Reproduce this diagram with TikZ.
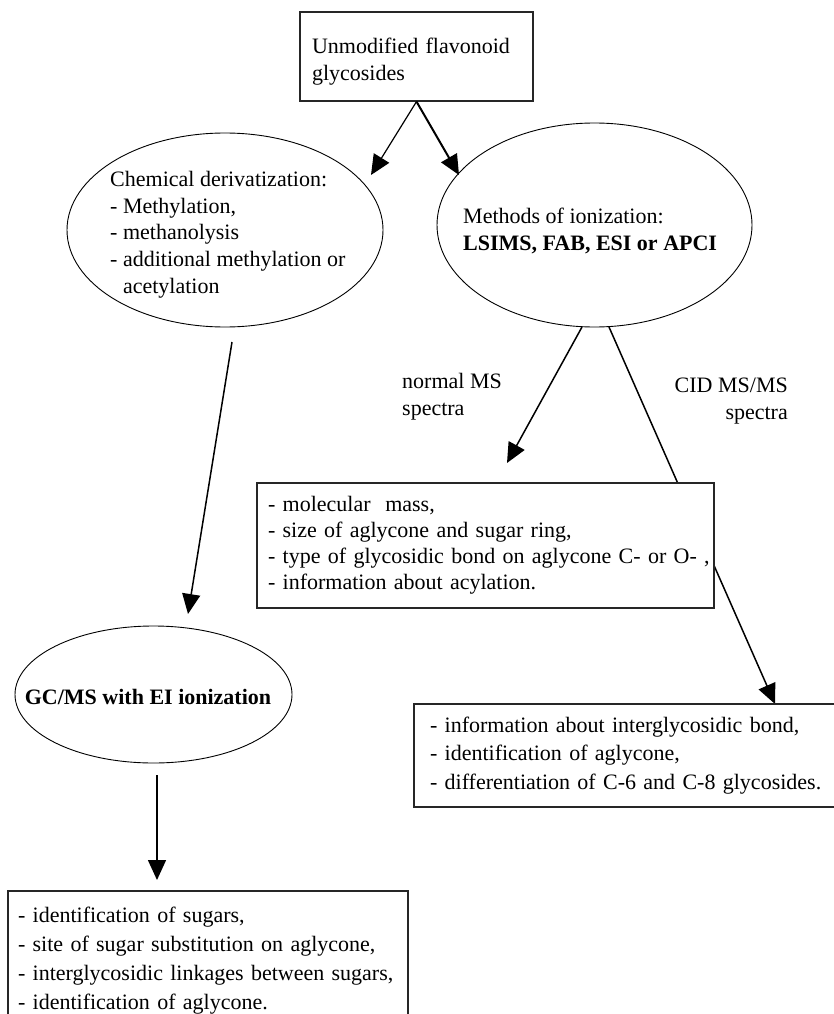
\documentclass[tikz,border=0pt]{standalone}
\usepackage{fontspec}
\setmainfont{Liberation Serif}
\usetikzlibrary{shapes.geometric,arrows.meta,backgrounds}
\begin{document}
\begin{tikzpicture}[x=1pt,y=-1pt,
  fnt/.style={font=\fontsize{22}{27}\selectfont},
  boxnode/.style={draw=black!85, line width=1.2pt, fill=white, rectangle, align=left, inner ysep=0pt},
  ellnode/.style={draw, ellipse, line width=0.9pt, inner sep=0pt},
  txt/.style={inner sep=0pt, anchor=north west, align=left, fnt},
  arr/.style={-{Triangle[length=20pt,width=18pt]}, line width=1.5pt},
]
\useasboundingbox (0,0) rectangle (833,1014);

% boxes
\node[boxnode, fnt, minimum width=233pt, minimum height=89pt, text width=209pt, inner xsep=12pt] (top) at (416.5,56.5)
  {\rule{0pt}{25pt}Unmodified flavonoid\\glycosides};

\node[boxnode, font=\fontsize{22}{26}\selectfont, minimum width=457pt, minimum height=125pt, text width=435pt, inner xsep=11pt] (mid) at (485.5,545.5)
  {\mbox{- molecular\ \ mass,}\\\mbox{- size of aglycone and sugar ring,}\\\mbox{- type of glycosidic bond on aglycone C- or O- ,}\\\mbox{- information about acylation.}};

\node[boxnode, font=\fontsize{22}{28.5}\selectfont, minimum width=422pt, minimum height=103pt, text width=390pt, inner xsep=16pt] (lr) at (625,755.5)
  {\mbox{- information about interglycosidic bond,}\\\mbox{- identification of aglycone,}\\\mbox{- differentiation of C-6 and C-8 glycosides.}};

\begin{scope}
\clip (0,0) rectangle (833,1014);
\node[boxnode, font=\fontsize{22}{29}\selectfont, minimum width=400pt, minimum height=140pt, text width=380pt, inner xsep=10pt] (bl) at (208,961)
  {\mbox{- identification of sugars,}\\\mbox{- site of sugar substitution on aglycone,}\\\mbox{- interglycosidic linkages between sugars,}\\\mbox{- identification of aglycone.}};
\end{scope}

% ellipses
\node[ellnode, minimum width=316pt, minimum height=194pt] (lell) at (225,230) {};
\node[ellnode, minimum width=315pt, minimum height=204pt] (rell) at (594.5,225) {};
\node[ellnode, minimum width=277pt, minimum height=137pt] (gcell) at (153.5,694.5) {};

\node[txt, font=\fontsize{22}{26.7}\selectfont] (ltxt) at (110,171)
  {Chemical derivatization:\\- Methylation,\\- methanolysis\\- additional methylation or\\\phantom{- }acetylation};
\node[txt] (rtxt) at (463,208) {Methods of ionization:\\\textbf{LSIMS, FAB, ESI or APCI}};
\node[inner sep=0pt, font=\bfseries\fontsize{22}{27}\selectfont] (gctxt) at (148,697) {GC/MS with EI ionization};

% labels
\node[txt] (nlab) at (402,373) {normal MS\\spectra};
\node[txt, anchor=north east, align=right] (clab) at (788,378) {CID MS/MS\\spectra};

% arrow coordinates
\coordinate (t1) at (371,175);
\coordinate (t2) at (459,175);
\coordinate (s3) at (582,327);
\coordinate (t3) at (507,463);
\coordinate (s4) at (609,327);
\coordinate (t4) at (775,704);
\coordinate (s5) at (232,342);
\coordinate (t5) at (188,614);
\coordinate (s6) at (157,775);
\coordinate (t6) at (157,880);

\draw[arr, line width=1.2pt] (top.south) -- (t1);
\draw[arr, line width=2pt] (top.south) -- (t2);
\draw[arr] (s3) -- (t3);
\begin{pgfonlayer}{background}
\draw[arr] (s4) -- (t4);
\end{pgfonlayer}
\draw[arr] (s5) -- (t5);
\draw[arr] (s6) -- (t6);
\end{tikzpicture}
\end{document}
